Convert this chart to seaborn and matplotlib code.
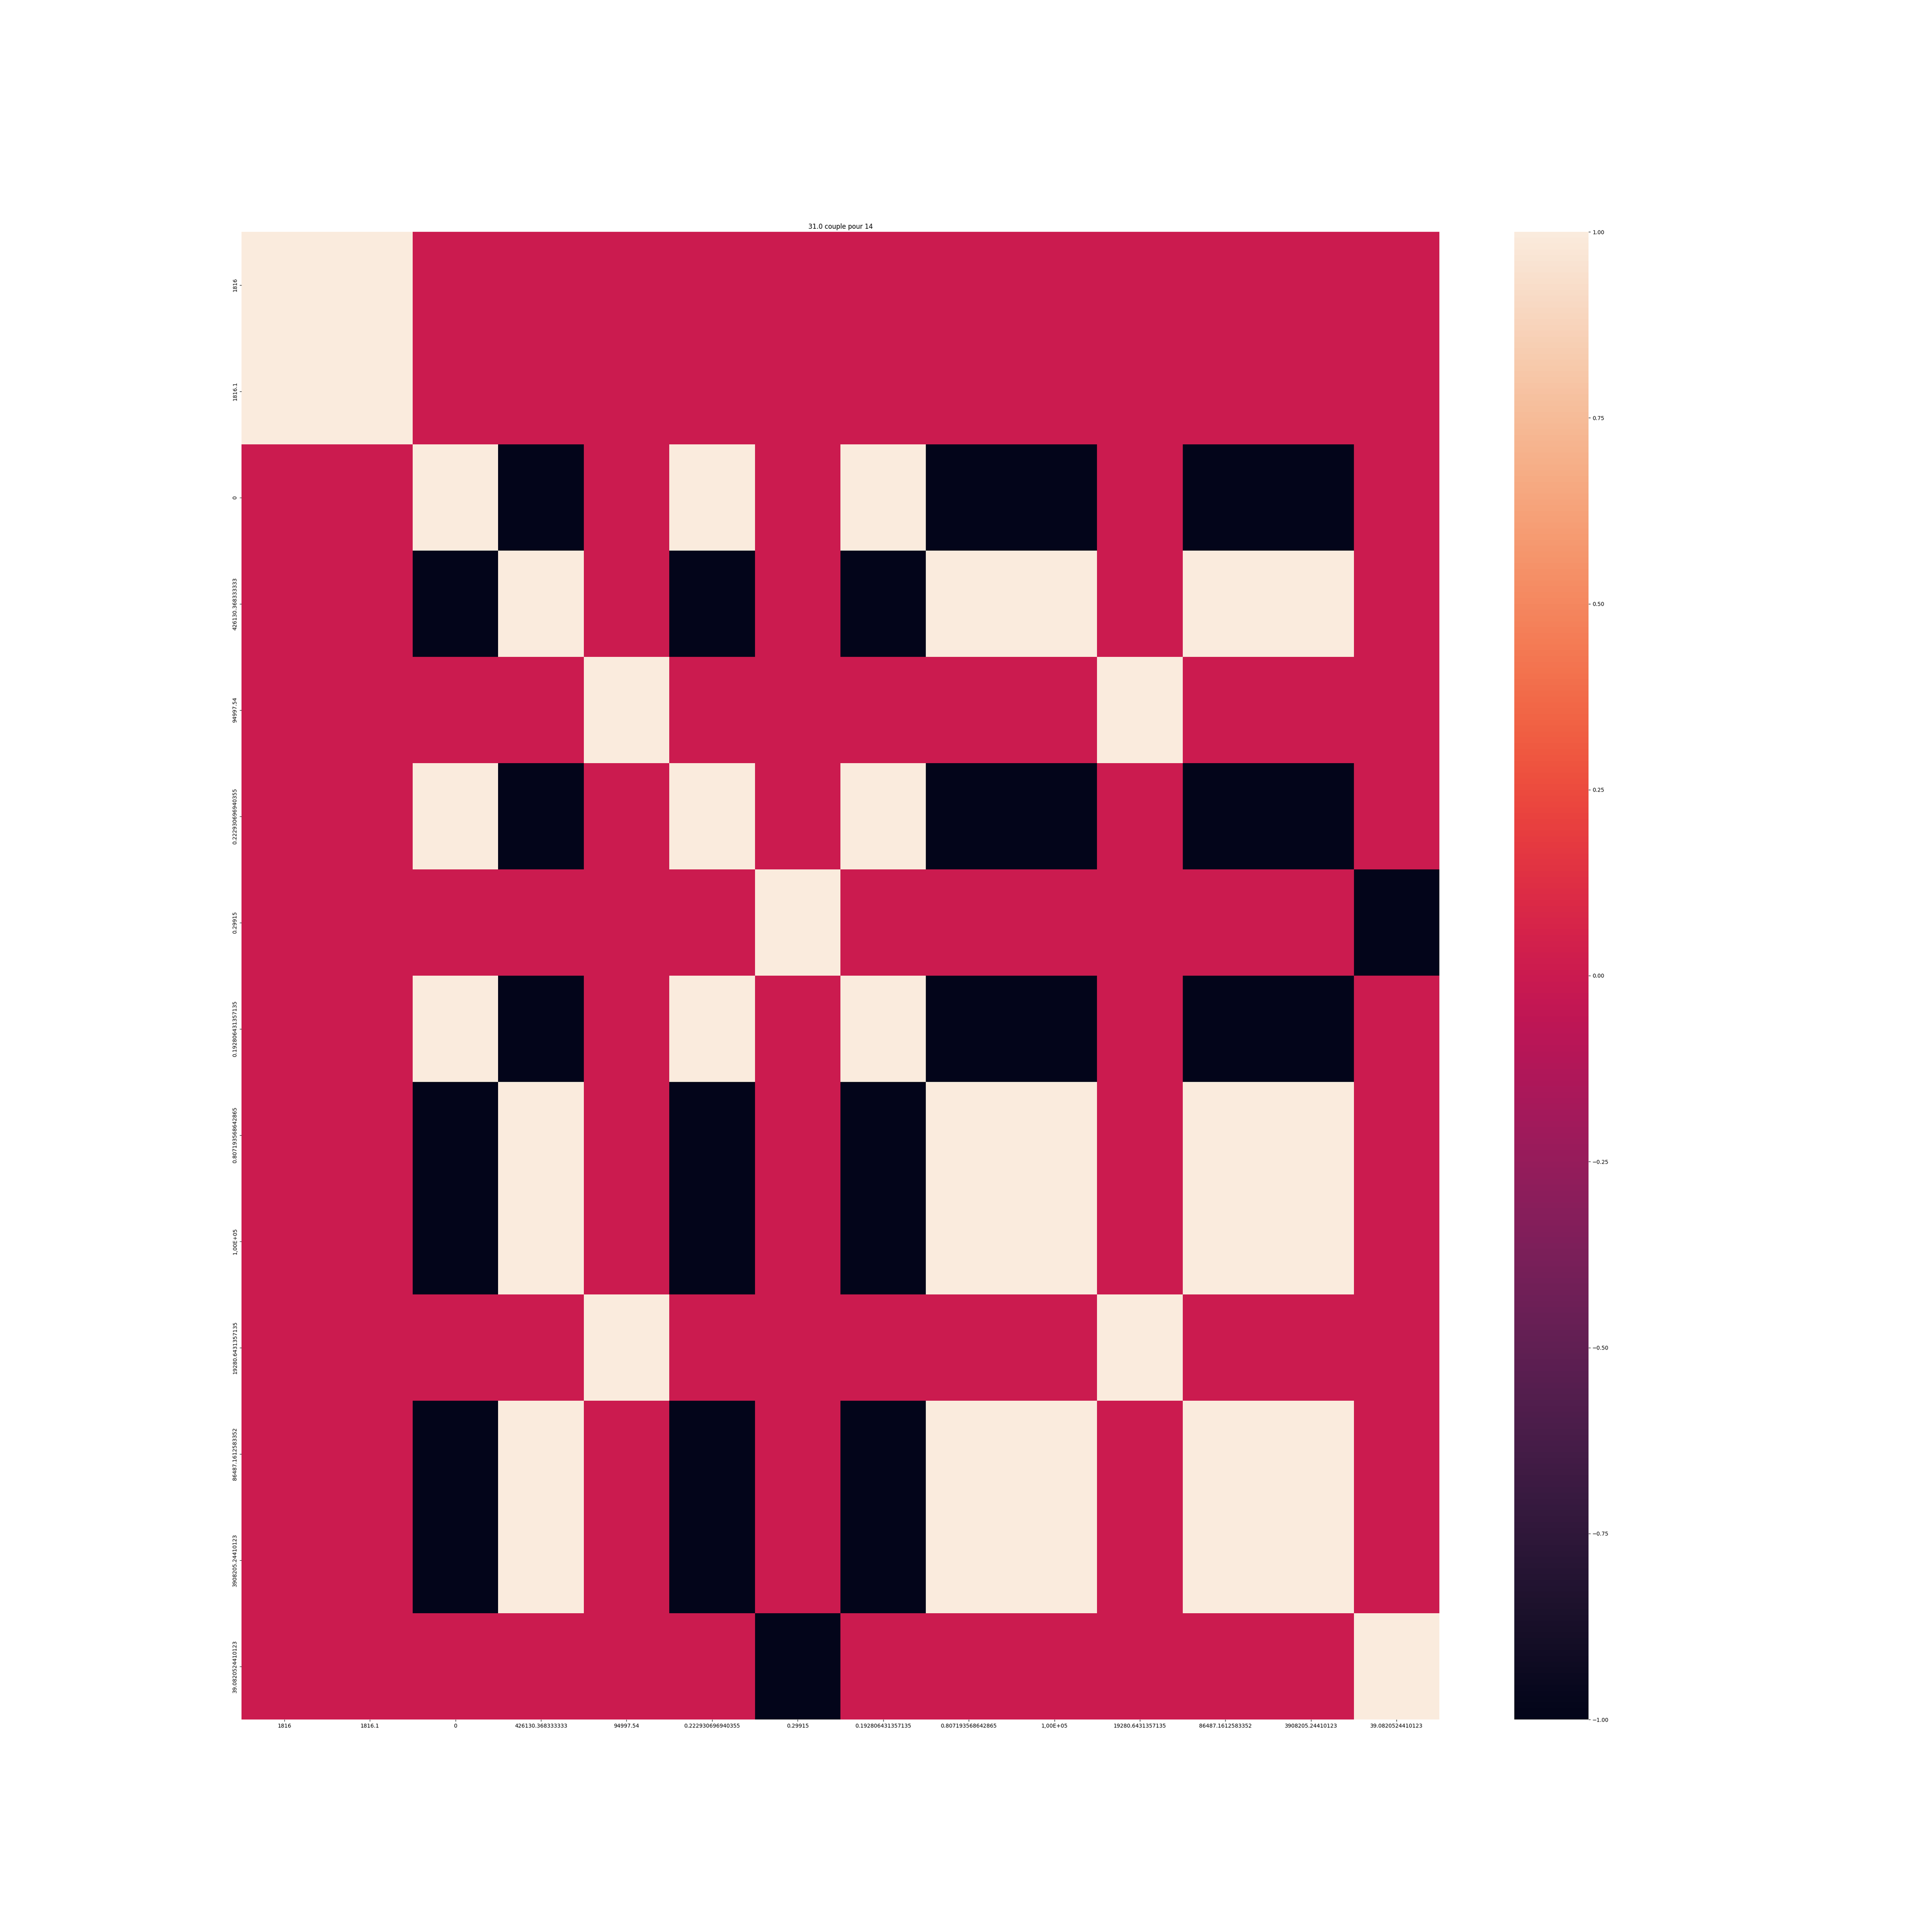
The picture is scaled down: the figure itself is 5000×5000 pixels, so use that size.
import numpy as np
import pandas as pd
import matplotlib
matplotlib.use("Agg")
import matplotlib.pyplot as plt
import seaborn as sns

# libellés des lignes / colonnes
labels = ['1816', '1816.1', '0', '426130.368333333', '94997.54',
          '0.222930696940355', '0.29915', '0.192806431357135',
          '0.807193568642865', '1,00E+05', '19280.6431357135',
          '86487.1612583352', '3908205.24410123', '39.0820524410123']

# lignes de la matrice de corrélation
row_a = [1, 1, 0, 0, 0, 0, 0, 0, 0, 0, 0, 0, 0, 0]
row_b = [0, 0, 1, -1, 0, 1, 0, 1, -1, -1, 0, -1, -1, 0]
row_c = [0, 0, -1, 1, 0, -1, 0, -1, 1, 1, 0, 1, 1, 0]
row_d = [0, 0, 0, 0, 1, 0, 0, 0, 0, 0, 1, 0, 0, 0]
row_e = [0, 0, 0, 0, 0, 0, 1, 0, 0, 0, 0, 0, 0, -1]
row_f = [0, 0, 0, 0, 0, 0, -1, 0, 0, 0, 0, 0, 0, 1]

rows = [row_a, row_a, row_b, row_c, row_d, row_b, row_e,
        row_b, row_c, row_c, row_d, row_c, row_c, row_f]

corr = pd.DataFrame(np.array(rows, dtype=float), index=labels, columns=labels)

fig = plt.figure(figsize=(50, 50), dpi=100)
ax = sns.heatmap(corr)
ax.set_title('31.0 couple pour 14')
plt.savefig('out.png', dpi=100)
